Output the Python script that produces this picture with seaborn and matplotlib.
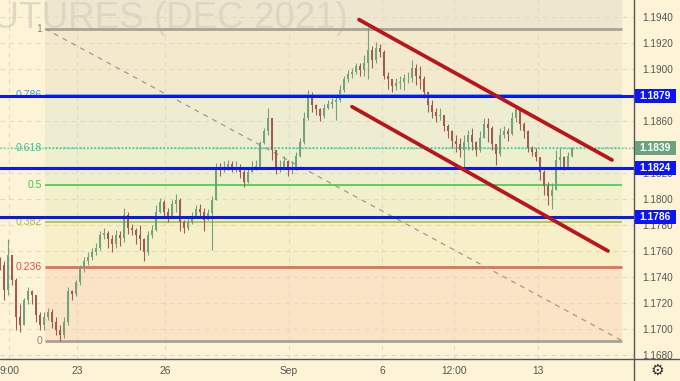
import numpy as np
import pandas as pd
import matplotlib
matplotlib.use("Agg")
import matplotlib.pyplot as plt
import matplotlib.transforms as mtransforms
from matplotlib.patches import Rectangle
from matplotlib.lines import Line2D
import seaborn as sns

# ---------------- data ----------------
closes = [1.1749, 1.1730, 1.1757, 1.1738, 1.1709, 1.1703, 1.1722, 1.1729, 1.1726, 1.1711,
          1.1703, 1.1709, 1.1713, 1.1705, 1.1699, 1.1695, 1.1705, 1.1729, 1.1727, 1.1736,
          1.1747, 1.1752, 1.1755, 1.1759, 1.1762, 1.1772, 1.1774, 1.1769, 1.1765, 1.1772,
          1.1770, 1.1788, 1.1778, 1.1776, 1.1772, 1.1769, 1.1759, 1.1772, 1.1776, 1.1790,
          1.1798, 1.1790, 1.1787, 1.1796, 1.1799, 1.1782, 1.1778, 1.1782, 1.1787, 1.1792,
          1.1790, 1.1784, 1.1789, 1.1799, 1.1824, 1.1822, 1.1825, 1.1827, 1.1824, 1.1825,
          1.1821, 1.1813, 1.1821, 1.1825, 1.1825, 1.1843, 1.1852, 1.1862, 1.1838, 1.1824,
          1.1825, 1.1829, 1.1824, 1.1824, 1.1833, 1.1844, 1.1862, 1.1880, 1.1872, 1.1869,
          1.1864, 1.1870, 1.1873, 1.1875, 1.1876, 1.1884, 1.1892, 1.1896, 1.1898, 1.1902,
          1.1899, 1.1905, 1.1915, 1.1907, 1.1916, 1.1913, 1.1895, 1.1892, 1.1887, 1.1889,
          1.1890, 1.1893, 1.1893, 1.1901, 1.1895, 1.1892, 1.1882, 1.1872, 1.1867, 1.1864,
          1.1865, 1.1856, 1.1852, 1.1845, 1.1842, 1.1838, 1.1844, 1.1849, 1.1844, 1.1838,
          1.1847, 1.1858, 1.1855, 1.1842, 1.1835, 1.1849, 1.1852, 1.1850, 1.1862, 1.1869,
          1.1858, 1.1852, 1.1839, 1.1836, 1.1832, 1.1821, 1.1810, 1.1802, 1.1807, 1.1830,
          1.1832, 1.1825, 1.1833, 1.1839]
highs = [1.1755, 1.1752, 1.1769, 1.1742, 1.1739, 1.1719, 1.1724, 1.1732, 1.1730, 1.1724,
         1.1713, 1.1713, 1.1716, 1.1715, 1.1709, 1.1703, 1.1709, 1.1732, 1.1730, 1.1738,
         1.1749, 1.1755, 1.1759, 1.1762, 1.1766, 1.1775, 1.1778, 1.1775, 1.1772, 1.1776,
         1.1775, 1.1793, 1.1790, 1.1781, 1.1778, 1.1780, 1.1770, 1.1775, 1.1780, 1.1795,
         1.1801, 1.1799, 1.1793, 1.1799, 1.1804, 1.1801, 1.1784, 1.1785, 1.1790, 1.1795,
         1.1796, 1.1793, 1.1792, 1.1802, 1.1828, 1.1828, 1.1829, 1.1830, 1.1829, 1.1829,
         1.1827, 1.1822, 1.1825, 1.1829, 1.1830, 1.1845, 1.1855, 1.1870, 1.1862, 1.1838,
         1.1830, 1.1833, 1.1830, 1.1829, 1.1836, 1.1847, 1.1867, 1.1884, 1.1882, 1.1873,
         1.1870, 1.1873, 1.1876, 1.1878, 1.1880, 1.1888, 1.1895, 1.1899, 1.1901, 1.1905,
         1.1905, 1.1911, 1.1932, 1.1918, 1.1921, 1.1919, 1.1915, 1.1898, 1.1892, 1.1893,
         1.1895, 1.1896, 1.1898, 1.1907, 1.1904, 1.1902, 1.1895, 1.1882, 1.1876, 1.1870,
         1.1870, 1.1865, 1.1858, 1.1853, 1.1849, 1.1847, 1.1849, 1.1853, 1.1855, 1.1845,
         1.1852, 1.1862, 1.1862, 1.1856, 1.1841, 1.1855, 1.1856, 1.1855, 1.1867, 1.1872,
         1.1869, 1.1859, 1.1853, 1.1841, 1.1839, 1.1832, 1.1822, 1.1813, 1.1812, 1.1838,
         1.1839, 1.1833, 1.1836, 1.1840]
lows = [1.1745, 1.1722, 1.1726, 1.1734, 1.1699, 1.1698, 1.1705, 1.1719, 1.1719, 1.1705,
        1.1699, 1.1699, 1.1707, 1.1701, 1.1695, 1.1691, 1.1693, 1.1703, 1.1722, 1.1725,
        1.1734, 1.1744, 1.1749, 1.1753, 1.1757, 1.1761, 1.1769, 1.1762, 1.1759, 1.1762,
        1.1764, 1.1767, 1.1773, 1.1772, 1.1765, 1.1761, 1.1752, 1.1757, 1.1770, 1.1775,
        1.1789, 1.1785, 1.1782, 1.1785, 1.1790, 1.1775, 1.1774, 1.1776, 1.1781, 1.1785,
        1.1785, 1.1775, 1.1784, 1.1761, 1.1799, 1.1818, 1.1821, 1.1822, 1.1821, 1.1821,
        1.1816, 1.1809, 1.1812, 1.1821, 1.1822, 1.1824, 1.1842, 1.1849, 1.1830, 1.1819,
        1.1821, 1.1824, 1.1818, 1.1819, 1.1822, 1.1832, 1.1842, 1.1861, 1.1867, 1.1865,
        1.1860, 1.1862, 1.1869, 1.1870, 1.1861, 1.1875, 1.1882, 1.1890, 1.1893, 1.1896,
        1.1895, 1.1895, 1.1892, 1.1901, 1.1905, 1.1909, 1.1892, 1.1885, 1.1882, 1.1884,
        1.1885, 1.1884, 1.1889, 1.1890, 1.1888, 1.1885, 1.1878, 1.1867, 1.1862, 1.1859,
        1.1861, 1.1852, 1.1847, 1.1839, 1.1836, 1.1832, 1.1824, 1.1838, 1.1838, 1.1833,
        1.1836, 1.1847, 1.1844, 1.1838, 1.1826, 1.1833, 1.1847, 1.1845, 1.1849, 1.1859,
        1.1853, 1.1847, 1.1836, 1.1833, 1.1829, 1.1815, 1.1803, 1.1795, 1.1792, 1.1807,
        1.1825, 1.1822, 1.1824, 1.1832]
first_open = 1.1752

fib_high = 1.1931
fib_low = 1.1691
fib_levels = [0, 0.236, 0.382, 0.5, 0.618, 0.786, 1]
fib_labels = ["0", "0.236", "0.382", "0.5", "0.618", "0.786", "1"]
fib_start, fib_end = 11.25, 155.5

support_levels = [1.1879, 1.1824, 1.1786]
support_labels = ["1.1879", "1.1824", "1.1786"]
last_price = 1.1839
last_label = "1.1839"

upper_channel_x = [89.75, 153.0]
upper_channel_y = [1.1938, 1.1830]
lower_channel_x = [88.0, 152.0]
lower_channel_y = [1.1871, 1.1760]

x_tick_pos = [2.25, 19.25, 41.25, 72.25, 95.5, 113.5, 134.5]
x_tick_labels = ["9:00", "23", "26", "Sep", "6", "12:00", "13"]
y_ticks = [1.1680, 1.1700, 1.1720, 1.1740, 1.1760, 1.1780, 1.1800,
           1.1820, 1.1840, 1.1860, 1.1880, 1.1900, 1.1920, 1.1940]
watermark = "FUTURES (DEC 2021)"

# ---------------- style ----------------
sns.set_style("white")
plt.rcParams['font.family'] = ['Liberation Sans', 'DejaVu Sans']

BG = "#fdf4d8"
W, H = 680, 381
fig = plt.figure(figsize=(W / 100, H / 100), dpi=100, facecolor=BG)
ax = fig.add_axes([0, 22 / H, 634 / W, 359 / H])
ax.set_facecolor(BG)
ax.set_xlim(0, 158.5)
ax.set_ylim(1.16769, 1.19531)
for s in ax.spines.values():
    s.set_visible(False)

# grid / ticks
ax.set_axisbelow(True)
ax.set_xticks(x_tick_pos)
ax.set_xticklabels(x_tick_labels)
ax.set_yticks(y_ticks)
ax.set_yticklabels([f"{v:.4f}" for v in y_ticks])
ax.yaxis.tick_right()
ax.tick_params(axis='y', length=0, pad=6.2, labelsize=7.2, labelcolor="#555555")
ax.tick_params(axis='x', length=0, pad=5, labelsize=7.4, labelcolor="#555555")
ax.grid(True, color="#e2d9c2", linestyle=(0, (4, 4)), linewidth=0.8)

# fib zones
fib_prices = [fib_low + (fib_high - fib_low) * l for l in fib_levels]
zone_colors = ["#fbe3c6", "#f6efc8", "#f1f0cb", "#edefcf", "#eeedd2", "#f3eace"]
for i in range(len(fib_prices) - 1):
    ax.fill_between([fib_start, fib_end], fib_prices[i], fib_prices[i + 1],
                    color=zone_colors[i], lw=0, zorder=0.2)
ax.fill_between([fib_start, fib_end], fib_prices[-1], 1.19531,
                color="#efe6d0", lw=0, zorder=0.2)

level_styles = {
    "0": dict(color="#a8a397", lw=2.0, ls="-"),
    "0.236": dict(color="#e0705c", lw=2.0, ls="-"),
    "0.382": dict(color="#a9c93c", lw=1.3, ls="-"),
    "0.5": dict(color="#4ccf4c", lw=1.3, ls="-"),
    "0.618": dict(color="#3ccf9e", lw=1.1, ls=(0, (1, 1.5))),
    "0.786": dict(color="#5aaef0", lw=1.3, ls="-"),
    "1": dict(color="#a8a397", lw=2.0, ls="-"),
}
label_colors = {"0": "#8a8a8a", "0.236": "#e0504a", "0.382": "#9cc43a", "0.5": "#3fc93f",
                "0.618": "#2fc79a", "0.786": "#3a9de8", "1": "#8a8a8a"}
blend = mtransforms.blended_transform_factory(ax.transAxes, ax.transData)
for lab, price in zip(fib_labels, fib_prices):
    st = level_styles[lab]
    ax.hlines(price, fib_start, fib_end, colors=st["color"], linewidth=st["lw"],
              linestyles=[st["ls"]], zorder=2)
    ax.text(42 / 634, price, lab, transform=blend, ha="right", va="center",
            fontsize=7.6, color=label_colors[lab], zorder=2)

# current price dotted line
ax.axhline(last_price, color="#3ccf9e", lw=1.0, ls=(0, (1, 1.5)), zorder=2)

# fib trend diagonal
ax.plot([fib_start, fib_end], [fib_high, fib_low], color="#a09a8e", lw=0.9,
        ls=(0, (4, 4)), zorder=2.5)

# watermark
ax.text(348 / 634, 1 - 28 / 359, watermark, transform=ax.transAxes, ha="right",
        va="baseline", fontsize=26.5, color="#dad1bf", alpha=0.8, zorder=0.6)

# candles
idx = np.arange(len(closes))
opens = [first_open] + closes[:-1]
df = pd.DataFrame({"i": idx, "open": opens, "high": highs, "low": lows, "close": closes})
up = df["close"] >= df["open"]
col = np.where(up, "#73a27d", "#a05c4f")
wlo = np.minimum(df["low"], np.minimum(df["open"], df["close"]))
whi = np.maximum(df["high"], np.maximum(df["open"], df["close"]))
ax.vlines(df["i"], wlo, whi, colors=col, linewidth=0.8, zorder=3)
body = (df["close"] - df["open"]).to_numpy()
body = np.where(np.abs(body) < 0.00004, 0.00004, body)
ax.bar(df["i"], body, bottom=df["open"], width=0.45, color=col, linewidth=0, zorder=3.1)

# support / resistance blue lines
for p in support_levels:
    ax.axhline(p, color="#0a18f5", lw=2.2, zorder=4)

# channel lines
sns.lineplot(x=upper_channel_x, y=upper_channel_y, ax=ax, color="#b8161c", lw=2.7, zorder=5)
sns.lineplot(x=lower_channel_x, y=lower_channel_y, ax=ax, color="#b8161c", lw=2.7, zorder=5)

# separators
fig.add_artist(Line2D([0, 1], [22 / H, 22 / H], transform=fig.transFigure,
                      color="#555555", lw=1.0))
fig.add_artist(Line2D([634 / W, 634 / W], [0, 1], transform=fig.transFigure,
                      color="#555555", lw=1.0))

# price boxes
fig.canvas.draw()
def price_box(v, text, face):
    ypix = ax.transData.transform((0, v))[1]
    fig.add_artist(Rectangle((635 / W, (ypix - 7) / H), 41 / W, 14 / H,
                             transform=fig.transFigure, facecolor=face,
                             edgecolor="none", zorder=5))
    fig.text(655.5 / W, ypix / H, text, ha="center", va="center", color="white",
             fontsize=7.4, fontweight="bold", zorder=6)

for p, t in zip(support_levels, support_labels):
    price_box(p, t, "#0a14ff")
price_box(last_price, last_label, "#6aa47e")

# gear icon
fig.text(657 / W, 11 / H, "\u2699", ha="center", va="center", fontsize=11,
         color="#333333", family=["DejaVu Sans"])

fig.savefig("out.png", dpi=100, facecolor=BG)
